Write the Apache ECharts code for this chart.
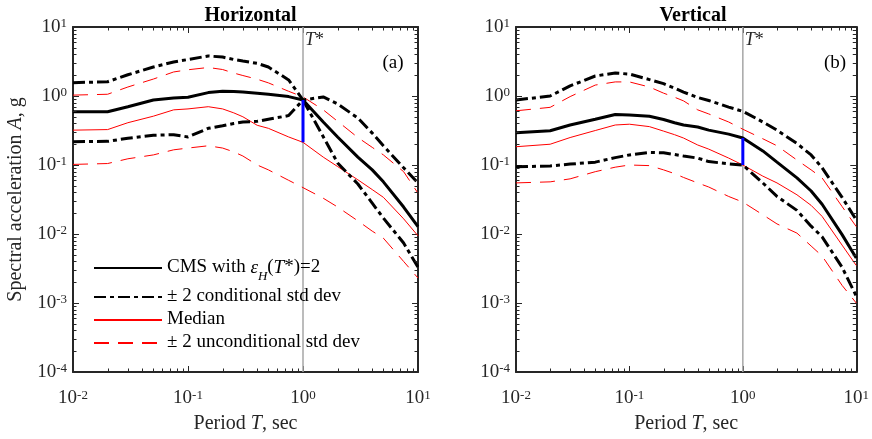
<!DOCTYPE html>
<html><head><meta charset="utf-8">
<script src="https://cdn.jsdelivr.net/npm/echarts@6/dist/echarts.min.js"></script>
<style>html,body{margin:0;padding:0;background:#fff}#c{width:872px;height:439px}</style>
</head><body><div id="c"></div>
<script>
// ---------------- data ----------------
const periods = [0.01, 0.02, 0.03, 0.05, 0.075, 0.1, 0.15, 0.2, 0.25, 0.3, 0.4, 0.5, 0.75, 1, 1.5, 2, 3, 4, 5, 7.5, 10];
const tStar = 1;

// Horizontal (a)
const cmsH    = [0.59, 0.59, 0.70, 0.875, 0.935, 0.96, 1.12, 1.17, 1.16, 1.14, 1.10, 1.06, 0.98, 0.875, 0.42, 0.255, 0.13, 0.085, 0.057, 0.0246, 0.0128];
const cmsHup  = [1.56, 1.61, 2.03, 2.63, 3.11, 3.38, 3.8, 3.67, 3.38, 3.21, 2.97, 2.63, 1.71, 0.875, 0.97, 0.766, 0.48, 0.29, 0.19, 0.091, 0.055];
const cmsHlo  = [0.218, 0.22, 0.244, 0.27, 0.275, 0.255, 0.34, 0.37, 0.40, 0.42, 0.43, 0.46, 0.52, 0.875, 0.257, 0.107, 0.053, 0.028, 0.017, 0.0074, 0.0033];
const medH    = [0.32, 0.326, 0.41, 0.51, 0.63, 0.65, 0.70, 0.65, 0.57, 0.50, 0.376, 0.34, 0.255, 0.213, 0.13, 0.095, 0.061, 0.044, 0.034, 0.0166, 0.0094];
const medHup  = [1.03, 1.06, 1.35, 1.76, 2.23, 2.4, 2.59, 2.42, 2.15, 1.98, 1.75, 1.55, 1.17, 0.97, 0.63, 0.43, 0.25, 0.18, 0.14, 0.08, 0.039];
const medHlo  = [0.102, 0.105, 0.123, 0.14, 0.166, 0.176, 0.19, 0.176, 0.155, 0.135, 0.1, 0.085, 0.06, 0.047, 0.033, 0.0246, 0.0155, 0.011, 0.0087, 0.004, 0.0023];

// Vertical (b)
const cmsV    = [0.294, 0.314, 0.38, 0.46, 0.54, 0.53, 0.51, 0.457, 0.41, 0.38, 0.356, 0.32, 0.28, 0.246, 0.16, 0.11, 0.065, 0.042, 0.027, 0.0098, 0.0045];
const cmsVup  = [0.875, 1.0, 1.4, 1.95, 2.15, 2.08, 1.73, 1.51, 1.3, 1.14, 0.95, 0.86, 0.69, 0.6, 0.42, 0.32, 0.205, 0.14, 0.091, 0.034, 0.016];
const cmsVlo  = [0.094, 0.097, 0.103, 0.11, 0.128, 0.14, 0.152, 0.15, 0.142, 0.135, 0.126, 0.112, 0.104, 0.1, 0.055, 0.035, 0.022, 0.013, 0.0091, 0.0033, 0.00126];
const medV    = [0.184, 0.2, 0.25, 0.316, 0.38, 0.39, 0.36, 0.31, 0.275, 0.246, 0.195, 0.17, 0.126, 0.1, 0.069, 0.055, 0.037, 0.026, 0.018, 0.0069, 0.0035];
const medVup  = [0.61, 0.685, 0.98, 1.44, 1.6, 1.6, 1.35, 1.1, 0.96, 0.85, 0.63, 0.55, 0.42, 0.33, 0.24, 0.19, 0.118, 0.085, 0.065, 0.025, 0.0128];
const medVlo  = [0.055, 0.057, 0.063, 0.08, 0.093, 0.1, 0.098, 0.085, 0.075, 0.066, 0.055, 0.048, 0.035, 0.029, 0.019, 0.014, 0.0103, 0.0067, 0.0048, 0.0018, 0.001];

// axes
const xRange = [0.01, 10];
const yRange = [1e-4, 10];
const decadesX = [0.01, 0.1, 1];
const decadesY = [1e-4, 1e-3, 1e-2, 0.1, 1];
const multipliers = [2, 3, 4, 5, 6, 7, 8, 9];

const panelTitles = ['Horizontal', 'Vertical'];
const panelTags = ['(a)', '(b)'];
const names = ['CMS with \u03b5_H(T*)=2', '\u00b1 2 conditional std dev', 'Median', '\u00b1 2 unconditional std dev'];

// --------------- chart ---------------
const FONT = '"Liberation Serif", "Times New Roman", Times, serif';
const AX = '#262626';
const minorX = [];
decadesX.forEach(d => multipliers.forEach(m => minorX.push(+(d * m).toPrecision(3))));
const minorY = [];
decadesY.forEach(d => multipliers.forEach(m => minorY.push(+(d * m).toPrecision(3))));

const grids = [
  {left: 73, top: 27, width: 345, height: 345},
  {left: 516, top: 27, width: 344, height: 345}
];

const tickRich = {
  b: {fontFamily: FONT, fontSize: 19, color: AX},
  s: {fontFamily: FONT, fontSize: 13, color: AX, verticalAlign: 'top', lineHeight: 13}
};
function powFmt(v) {
  const e = Math.round(Math.log10(v));
  return '{b|10}{s|' + e + '}';
}

const xAxes = [], yAxes = [];
[0, 1].forEach(g => {
  const common = {
    type: 'log', logBase: 10, gridIndex: g,
    splitLine: {show: false},
    axisLine: {show: true, onZero: false, lineStyle: {color: AX, width: 2}},
    axisTick: {show: true, inside: true, length: 6, lineStyle: {color: AX, width: 1}},
  };
  xAxes.push(Object.assign({}, common, {
    min: xRange[0], max: xRange[1], position: 'bottom',
    axisLabel: {formatter: powFmt, rich: tickRich, margin: 17},
    name: 'Period {i|T}, sec', nameLocation: 'middle', nameGap: 42,
    nameTextStyle: {fontFamily: FONT, fontSize: 20, color: AX,
      rich: {i: {fontFamily: FONT, fontSize: 20, fontStyle: 'italic', color: AX}}}
  }));
  xAxes.push(Object.assign({}, common, {
    min: xRange[0], max: xRange[1], position: 'top', axisLabel: {show: false}
  }));
  const yl = Object.assign({}, common, {
    min: yRange[0], max: yRange[1], position: 'left',
    axisLabel: {formatter: powFmt, rich: tickRich, margin: 6}
  });
  if (g === 0) {
    Object.assign(yl, {
      name: 'Spectral acceleration {i|A}, g', nameLocation: 'middle', nameGap: 47,
      nameTextStyle: {fontFamily: FONT, fontSize: 20, color: AX,
        rich: {i: {fontFamily: FONT, fontSize: 20, fontStyle: 'italic', color: AX}}}
    });
  }
  yAxes.push(yl);
  yAxes.push(Object.assign({}, common, {
    min: yRange[0], max: yRange[1], position: 'right', axisLabel: {show: false}
  }));
});

const DASHDOT = [12, 4, 4, 4];
const DASH = [15, 9];
const RED = '#ff0000';

function pairs(arr) { return periods.map((t, i) => [t, arr[i]]); }
const series = [];
function panel(g, cms, cup, clo, med, mup, mlo) {
  const ax = {xAxisIndex: g * 2, yAxisIndex: g * 2};
  const base = Object.assign({type: 'line', symbol: 'none', showSymbol: false, animation: false, silent: true}, ax);
  const iT = periods.indexOf(tStar);
  // T* vertical line
  series.push(Object.assign({}, base, {
    name: 'tstar', z: 1, symbol: 'circle', symbolSize: 0, showSymbol: true,
    itemStyle: {opacity: 0},
    data: [[tStar, yRange[0]], {value: [tStar, yRange[1]],
      label: {show: true, position: [2, 4], formatter: '{i|T}*', color: AX, opacity: 1,
        fontFamily: FONT, fontSize: 18,
        rich: {i: {fontFamily: FONT, fontSize: 18, fontStyle: 'italic', color: AX}}}}],
    lineStyle: {color: '#a6a6a6', width: 1.5}
  }));
  series.push(Object.assign({}, base, {name: names[3], data: pairs(mup), itemStyle: {color: RED}, lineStyle: {color: RED, width: 1, type: DASH}, z: 2}));
  series.push(Object.assign({}, base, {name: names[3], data: pairs(mlo), itemStyle: {color: RED}, lineStyle: {color: RED, width: 1, type: DASH}, z: 2}));
  series.push(Object.assign({}, base, {name: names[2], data: pairs(med), itemStyle: {color: RED}, lineStyle: {color: RED, width: 1}, z: 2}));
  series.push(Object.assign({}, base, {name: names[1], data: pairs(cup), itemStyle: {color: '#000'}, lineStyle: {color: '#000', width: 3, type: DASHDOT}, z: 3}));
  series.push(Object.assign({}, base, {name: names[1], data: pairs(clo), itemStyle: {color: '#000'}, lineStyle: {color: '#000', width: 3, type: DASHDOT}, z: 3}));
  series.push(Object.assign({}, base, {name: names[0], data: pairs(cms), itemStyle: {color: '#000'}, lineStyle: {color: '#000', width: 3}, z: 3}));
  // blue segment at T*
  series.push(Object.assign({}, base, {name: 'seg', data: [[tStar, cms[iT]], [tStar, med[iT]]],
    lineStyle: {color: '#0000ff', width: 3}, z: 4}));
  // minor ticks
  series.push({
    type: 'custom', xAxisIndex: g * 2, yAxisIndex: g * 2, silent: true, clip: false, animation: false, z: 5,
    data: minorX.map(v => [v, yRange[0]]),
    renderItem: (params, api) => {
      const x = api.value(0);
      const pb = api.coord([x, yRange[0]]);
      const pt = api.coord([x, yRange[1]]);
      const xx = Math.round(pb[0]) + 0.5;
      const st = {stroke: AX, lineWidth: 1};
      return {type: 'group', children: [
        {type: 'line', shape: {x1: xx, y1: pb[1], x2: xx, y2: pb[1] - 3.5}, style: st},
        {type: 'line', shape: {x1: xx, y1: pt[1], x2: xx, y2: pt[1] + 3.5}, style: st}
      ]};
    }
  });
  series.push({
    type: 'custom', xAxisIndex: g * 2, yAxisIndex: g * 2, silent: true, clip: false, animation: false, z: 5,
    data: minorY.map(v => [xRange[0], v]),
    renderItem: (params, api) => {
      const y = api.value(1);
      const pl = api.coord([xRange[0], y]);
      const pr = api.coord([xRange[1], y]);
      const yy = Math.round(pl[1]) + 0.5;
      const st = {stroke: AX, lineWidth: 1};
      return {type: 'group', children: [
        {type: 'line', shape: {x1: pl[0], y1: yy, x2: pl[0] + 3.5, y2: yy}, style: st},
        {type: 'line', shape: {x1: pr[0], y1: yy, x2: pr[0] - 3.5, y2: yy}, style: st}
      ]};
    }
  });
}
panel(0, cmsH, cmsHup, cmsHlo, medH, medHup, medHlo);
panel(1, cmsV, cmsVup, cmsVlo, medV, medVup, medVlo);

const legendRich = {
  n: {fontFamily: FONT, fontSize: 19, color: '#000', lineHeight: 20, verticalAlign: 'top'},
  it: {fontFamily: FONT, fontSize: 19, fontStyle: 'italic', color: '#000', lineHeight: 20, verticalAlign: 'top'},
  sub: {fontFamily: FONT, fontSize: 13, fontStyle: 'italic', color: '#000', verticalAlign: 'top', lineHeight: 13, padding: [12, 0, 0, 0]}
};
const legendFmt = {};
legendFmt[names[0]] = '{n|CMS with }{it|\u03b5}{sub|H}{n|(}{it|T}{n|*)=2}';
legendFmt[names[1]] = '{n|' + names[1] + '}';
legendFmt[names[2]] = '{n|' + names[2] + '}';
legendFmt[names[3]] = '{n|' + names[3] + '}';

const titles = [];
[0, 1].forEach(g => {
  const cx = grids[g].left + grids[g].width / 2;
  titles.push({text: panelTitles[g], left: cx, top: 1, textAlign: 'center',
    textStyle: {fontFamily: FONT, fontSize: 20, fontWeight: 'bold', color: '#000'}});
});
titles.push({text: panelTags[0], left: 388, top: 49, textAlign: 'center',
  textStyle: {fontFamily: FONT, fontSize: 19, fontWeight: 'normal', color: '#000'}});
titles.push({text: panelTags[1], left: 830, top: 49, textAlign: 'center',
  textStyle: {fontFamily: FONT, fontSize: 19, fontWeight: 'normal', color: '#000'}});

const chart = echarts.init(document.getElementById('c'), null, {renderer: 'canvas'});
chart.setOption({
  animation: false,
  backgroundColor: '#fff',
  title: titles,
  grid: grids,
  xAxis: xAxes,
  yAxis: yAxes,
  legend: {
    data: names, orient: 'vertical', left: 93, top: 258, itemWidth: 68, itemHeight: 14, itemGap: 4,
    padding: 0, selectedMode: false,
    itemStyle: {opacity: 0},
    textStyle: {fontFamily: FONT, fontSize: 19, color: '#000', rich: legendRich},
    formatter: n => legendFmt[n]
  },
  series: series
});
</script></body></html>
